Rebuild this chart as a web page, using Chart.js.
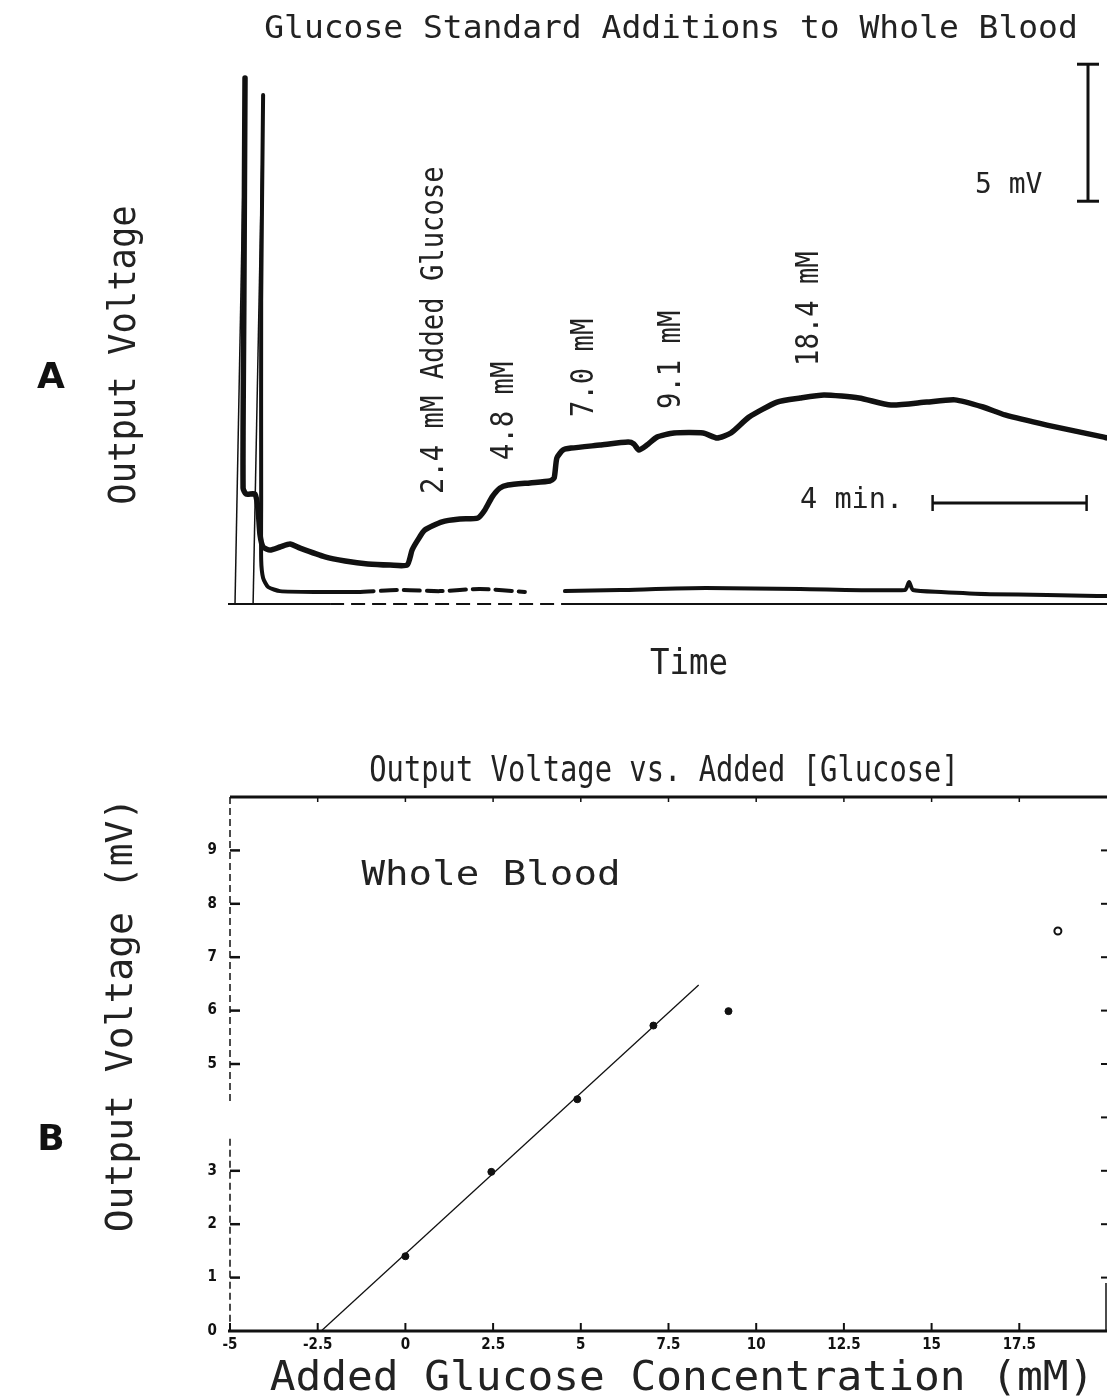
<!DOCTYPE html>
<html>
<head>
<meta charset="utf-8">
<script src="https://cdn.jsdelivr.net/npm/chart.js@4.4.1/dist/chart.umd.min.js"></script>
<style>
  html, body { margin: 0; padding: 0; background: #fff; }
  body { width: 1107px; height: 1399px; position: relative; overflow: hidden; }
  canvas { position: absolute; left: 0; }
  #cA { top: 0; }
  #cB { top: 700px; }
</style>
</head>
<body>
<canvas id="cA" width="1107" height="700"></canvas>
<canvas id="cB" width="1107" height="699"></canvas>
<script>
// ---------------- Panel A data (time in min, output in mV) ----------------
const riseTimeA = [0.13, 0.39];
const riseVoltA = [0, 19.2];
const traceTime = [0.39, 0.36, 0.34, 0.42, 0.65, 0.73, 0.78, 0.86, 1.04, 1.30, 1.56, 1.82, 2.47, 2.99, 3.58, 4.16, 4.60,
  4.73, 4.88, 5.06, 5.51, 5.97, 6.44, 6.62, 6.81, 7.01, 7.22, 7.79, 8.31, 8.42, 8.49, 8.65, 8.86, 9.61, 10.34, 10.49,
  10.62, 10.83, 11.09, 11.53, 12.29, 12.65, 13.01, 13.48, 14.21, 14.81, 15.43, 16.34, 17.17, 18.10, 18.83, 19.56,
  20.13, 21.22, 22.70, 22.78];
const traceVolt = [19.2, 11.09, 4.23, 4.01, 4.01, 3.43, 2.52, 2.08, 1.97, 2.08, 2.19, 2.04, 1.72, 1.57, 1.46, 1.42, 1.42,
  1.97, 2.34, 2.70, 3.00, 3.10, 3.14, 3.43, 3.91, 4.23, 4.34, 4.42, 4.49, 4.60, 5.33, 5.62, 5.69, 5.80, 5.91, 5.84,
  5.62, 5.80, 6.09, 6.24, 6.24, 6.06, 6.24, 6.82, 7.37, 7.52, 7.63, 7.52, 7.26, 7.37, 7.45, 7.19,
  6.90, 6.53, 6.09, 6.06];
const riseTimeB = [0.60, 0.86];
const riseVoltB = [0, 18.58];
const baseTime = [0.86, 0.81, 0.81, 0.81, 0.86, 0.99, 1.30, 2.34, 3.32, 4.42, 5.45, 6.49, 7.66, 8.2,
  8.70, 10.13, 12.36, 14.81, 17.53, 17.64, 17.74, 18.47, 19.74, 21.22, 22.52, 22.78];
const baseVolt = [18.58, 11.09, 3.80, 1.61, 0.95, 0.62, 0.47, 0.44, 0.44, 0.51, 0.47, 0.55, 0.44, null,
  0.47, 0.51, 0.58, 0.55, 0.51, 0.80, 0.51, 0.44, 0.36, 0.33, 0.29, 0.29];
const additionLabels = ['2.4 mM Added Glucose', '4.8 mM', '7.0 mM', '9.1 mM', '18.4 mM'];
const scaleBarMv = 5;
const scaleBarMin = 4;

// ---------------- Panel B data ----------------
const addedGlucose = [0, 2.45, 4.9, 7.07, 9.21];
const outputMv = [1.40, 2.98, 4.34, 5.72, 5.99];
const outlierGlucose = [18.6];
const outlierMv = [7.49];
const fitGlucose = [-2.4, 8.36];
const fitMv = [0, 6.48];
const xTickValues = [-5, -2.5, 0, 2.5, 5, 7.5, 10, 12.5, 15, 17.5];
const yTickValues = [0, 1, 2, 3, 5, 6, 7, 8, 9];
const rightTickValues = [1, 2, 3, 4, 5, 6, 7, 8, 9];

const INK = '#111';
const TXT = '#222';
const MONO = "'DejaVu Sans Mono', monospace";

function pts(xs, ys) { return xs.map((x, i) => ({ x: x, y: ys[i] })); }

function txt(ctx, s, x, y, o) {
  ctx.save();
  ctx.translate(x, y);
  if (o.rot) ctx.rotate(o.rot);
  ctx.scale(o.sx || 1, 1);
  ctx.font = o.font;
  ctx.fillStyle = o.color || INK;
  ctx.textAlign = o.align || 'center';
  ctx.textBaseline = 'middle';
  ctx.fillText(s, 0, 0);
  ctx.restore();
}
function line(ctx, x1, y1, x2, y2, w, dash) {
  ctx.save();
  ctx.strokeStyle = INK;
  ctx.lineWidth = w;
  ctx.setLineDash(dash || []);
  ctx.beginPath();
  ctx.moveTo(x1, y1);
  ctx.lineTo(x2, y2);
  ctx.stroke();
  ctx.restore();
}

// ---------------- Panel A ----------------
const panelAPlugin = {
  id: 'panelA',
  afterDraw(chart) {
    const ctx = chart.ctx;
    const xs = chart.scales.x, ys = chart.scales.y;
    const y0 = ys.getPixelForValue(0);
    // baseline axis line
    line(ctx, xs.left - 2, y0, xs.getPixelForValue(2.6), y0, 2);
    line(ctx, xs.getPixelForValue(2.6), y0, xs.getPixelForValue(8.6), y0, 2, [14, 7]);
    line(ctx, xs.getPixelForValue(8.6), y0, xs.right, y0, 2);
    // 5 mV scale bar
    const bx = 1088;
    const bTop = ys.getPixelForValue(19.7);
    const bBot = ys.getPixelForValue(19.7 - scaleBarMv);
    line(ctx, bx, bTop, bx, bBot, 3);
    line(ctx, bx - 11, bTop, bx + 11, bTop, 3);
    line(ctx, bx - 11, bBot, bx + 11, bBot, 3);
    // 4 min scale bar
    const t0 = xs.getPixelForValue(18.25);
    const t1 = xs.getPixelForValue(18.25 + scaleBarMin);
    line(ctx, t0, 503, t1, 503, 3);
    line(ctx, t0, 495, t0, 511, 2.5);
    line(ctx, t1, 495, t1, 511, 2.5);
    // texts
    txt(ctx, 'Glucose Standard Additions to Whole Blood', 671, 30, { font: '32px ' + MONO, sx: 1.03, color: TXT });
    txt(ctx, 'Output Voltage', 125, 355, { font: '37px ' + MONO, sx: 0.96, rot: -Math.PI / 2, color: TXT });
    txt(ctx, 'Time', 689, 665, { font: '36px ' + MONO, sx: 0.9, color: TXT });
    const lp = [[435, 494], [505, 460], [585, 417], [672, 409], [810, 366]];
    additionLabels.forEach((s, i) => {
      txt(ctx, s, lp[i][0], lp[i][1], { font: '32px ' + MONO, sx: 0.85, rot: -Math.PI / 2, align: 'left', color: TXT });
    });
    txt(ctx, '5 mV', 975, 186, { font: '28px ' + MONO, align: 'left', color: TXT });
    txt(ctx, '4 min.', 800, 501, { font: '28px ' + MONO, align: 'left', sx: 1.02, color: TXT });
    txt(ctx, 'A', 51, 379, { font: 'bold 36px "DejaVu Sans", sans-serif' });
  }
};

new Chart(document.getElementById('cA'), {
  type: 'line',
  data: {
    datasets: [
      { data: pts(riseTimeA, riseVoltA), borderColor: INK, borderWidth: 1.5, pointRadius: 0 },
      { data: pts(riseTimeB, riseVoltB), borderColor: INK, borderWidth: 1.5, pointRadius: 0 },
      { data: pts(traceTime, traceVolt), borderColor: INK, borderWidth: 5.5, pointRadius: 0, tension: 0.2,
        borderJoinStyle: 'round', borderCapStyle: 'round' },
      { data: pts(baseTime, baseVolt), borderColor: INK, borderWidth: 4, pointRadius: 0, spanGaps: false, tension: 0.2,
        borderJoinStyle: 'round', borderCapStyle: 'round',
        segment: { borderDash: c => (c.p0.parsed.x >= 3.3 && c.p1.parsed.x <= 7.7) ? [16, 7] : undefined } }
    ]
  },
  options: {
    responsive: false, animation: false, devicePixelRatio: 1,
    layout: { autoPadding: false, padding: { left: 230, right: 0, top: 56, bottom: 96 } },
    plugins: { legend: { display: false }, tooltip: { enabled: false }, title: { display: false } },
    scales: {
      x: { type: 'linear', display: false, min: 0, max: 22.78 },
      y: { type: 'linear', display: false, min: 0, max: 20 }
    }
  },
  plugins: [panelAPlugin]
});

// ---------------- Panel B ----------------
const panelBPlugin = {
  id: 'panelB',
  afterDraw(chart) {
    const ctx = chart.ctx;
    const xs = chart.scales.x, ys = chart.scales.y;
    const yb = ys.getPixelForValue(0), yt = ys.getPixelForValue(10);
    const xl = xs.getPixelForValue(-5), xr = xs.getPixelForValue(20);
    // bottom axis (thick) with inward ticks
    line(ctx, xl - 2, yb, xr + 1, yb, 3);
    xTickValues.forEach(v => { const p = xs.getPixelForValue(v); line(ctx, p, yb, p, yb - 8, 2); });
    // top frame with small downward ticks
    line(ctx, xl, yt, xr + 1, yt, 3);
    xTickValues.slice(1).forEach(v => { const p = xs.getPixelForValue(v); line(ctx, p, yt, p, yt + 5, 1.5); });
    // left dashed axis with a break
    line(ctx, xl, yt, xl, ys.getPixelForValue(4.3), 1.5, [7, 4]);
    line(ctx, xl, ys.getPixelForValue(3.6), xl, yb, 1.5, [7, 4]);
    yTickValues.forEach(v => { if (v === 0) return; const p = ys.getPixelForValue(v); line(ctx, xl, p, xl + 10, p, 2.5); });
    // right edge ticks
    rightTickValues.forEach(v => { const p = ys.getPixelForValue(v); line(ctx, xr - 6, p, xr + 1, p, 2); });
    line(ctx, xr - 1, ys.getPixelForValue(0.9), xr - 1, yb, 1.5);
    // texts
    txt(ctx, 'Output Voltage vs. Added [Glucose]', 664, 72, { font: '36px ' + MONO, sx: 0.8, color: TXT });
    txt(ctx, 'Whole Blood', 491, 176, { font: '34px ' + MONO, sx: 1.15, color: TXT });
    txt(ctx, 'Output Voltage (mV)', 122, 315, { font: '38px ' + MONO, rot: -Math.PI / 2, color: TXT });
    txt(ctx, 'Added Glucose Concentration (mM)', 682, 680, { font: '40px ' + MONO, sx: 1.07, color: TXT });
    txt(ctx, 'B', 51, 441, { font: 'bold 36px "DejaVu Sans", sans-serif' });
  }
};

const tickFont = { family: "'DejaVu Sans Condensed', 'DejaVu Sans', sans-serif", size: 15, weight: 'bold' };

new Chart(document.getElementById('cB'), {
  type: 'scatter',
  data: {
    datasets: [
      { type: 'line', data: pts(fitGlucose, fitMv), borderColor: INK, borderWidth: 1.3, pointRadius: 0 },
      { data: pts(addedGlucose, outputMv), backgroundColor: INK, borderColor: INK, pointRadius: 3.5, showLine: false },
      { data: pts(outlierGlucose, outlierMv), backgroundColor: '#fff', borderColor: INK, borderWidth: 2,
        pointRadius: 3.5, showLine: false }
    ]
  },
  options: {
    responsive: false, animation: false, devicePixelRatio: 1,
    layout: { autoPadding: false, padding: { left: 0, right: 0, top: 97, bottom: 0 } },
    plugins: { legend: { display: false }, tooltip: { enabled: false }, title: { display: false } },
    scales: {
      x: {
        type: 'linear', min: -5, max: 20,
        grid: { display: false, drawTicks: false }, border: { display: false },
        afterBuildTicks: s => { s.ticks = xTickValues.map(v => ({ value: v })); },
        afterFit: s => { s.height = 68; s.paddingLeft = 0; s.paddingRight = 0; },
        ticks: { color: INK, font: tickFont, padding: 5, maxRotation: 0, autoSkip: false,
          callback: v => String(v) }
      },
      y: {
        type: 'linear', min: 0, max: 10,
        grid: { display: false, drawTicks: false }, border: { display: false },
        afterBuildTicks: s => { s.ticks = yTickValues.map(v => ({ value: v })); },
        afterFit: s => { s.width = 230; s.paddingTop = 0; s.paddingBottom = 0; },
        ticks: { color: INK, font: tickFont, padding: 13, autoSkip: false, callback: v => String(v) }
      }
    }
  },
  plugins: [panelBPlugin]
});
</script>
</body>
</html>
